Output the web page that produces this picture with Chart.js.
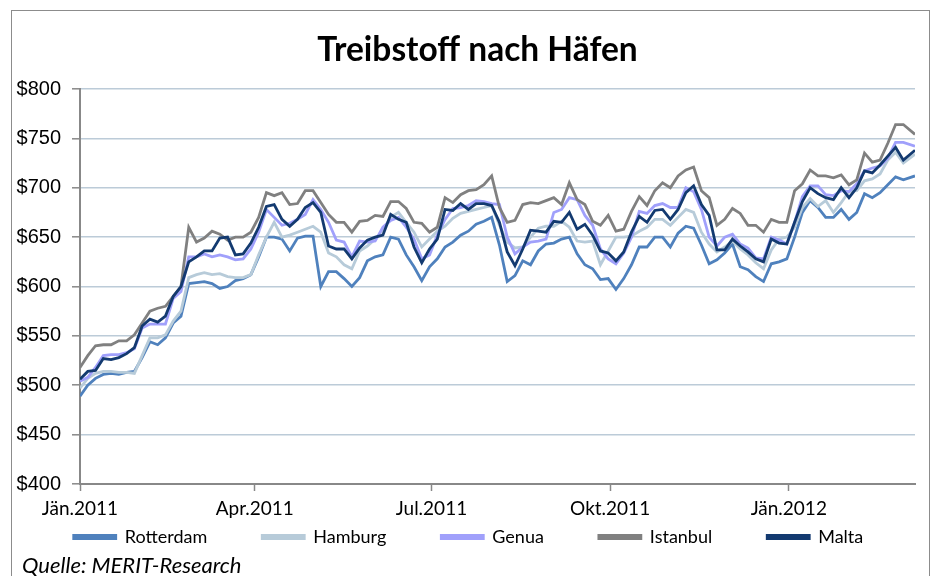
<!DOCTYPE html>
<html><head><meta charset="utf-8">
<script src="https://cdn.jsdelivr.net/npm/chart.js@4"></script>
<style>
html,body{margin:0;padding:0;background:#fff;}
#wrap{position:relative;width:937px;height:576px;overflow:hidden;background:#fff;}
#frame{position:absolute;left:11px;top:10px;width:919px;height:620px;border:1px solid #8c8c8c;box-sizing:border-box;}
canvas{position:absolute;left:0;top:0;}
#src{position:absolute;left:22px;top:551px;font:italic 22px Lato, "Open Sans", sans-serif;color:#000;white-space:nowrap;}
</style></head><body>
<div id="wrap"><div id="frame"></div><canvas id="c" width="937" height="576"></canvas><div id="src">Quelle: MERIT-Research</div></div>
<script>
// day offsets from 1 Jan 2011
const days = [0,4,8,12,16,20,24,28,32,36,40,44,48,52,56,60,64,68,72,76,
80,84,88,92,96,100,104,108,112,116,120,124,128,132,136,140,144,148,
152,156,160,164,168,172,176,180,184,188,192,196,200,204,208,212,216,220,
224,228,232,236,240,244,248,252,256,260,264,268,272,276,280,284,288,292,
296,300,304,308,312,316,320,324,328,332,336,340,344,348,352,356,360,364,
368,372,376,380,384,388,392,396,400,404,408,412,416,420,424,430];

const xTickDays = [0, 90, 181, 273, 365];
const xTickLabels = ['Jän.2011', 'Apr.2011', 'Jul.2011', 'Okt.2011', 'Jän.2012'];
const yTicks = [400, 450, 500, 550, 600, 650, 700, 750, 800];
const seriesNames = ['Rotterdam', 'Hamburg', 'Genua', 'Istanbul', 'Malta'];

const rotterdam = [489,500,507,511,512,511,513,514,528,544,541,548,563,570,603,604,605,603,598,600,
606,608,612,630,650,650,648,636,649,651,651,600,615,615,608,600,609,626,
630,632,650,648,632,620,606,620,628,640,645,652,656,663,666,670,642,605,
611,626,622,636,643,644,648,650,633,622,618,607,608,597,608,622,640,640,
650,650,640,654,661,659,642,623,627,634,643,620,617,610,605,623,625,628,
650,675,687,680,670,670,678,668,675,694,690,695,703,711,708,712];

const hamburg = [497,507,512,514,514,513,513,512,530,548,548,551,565,575,609,612,614,612,613,610,
609,609,612,632,650,665,650,652,655,658,661,655,634,630,622,618,636,641,
648,657,670,675,665,655,640,648,656,661,669,674,676,678,680,682,662,645,
639,640,650,659,661,661,666,660,646,645,646,622,636,650,650,651,656,660,
668,668,662,670,678,675,655,643,635,640,646,638,632,624,618,637,648,650,
660,680,689,681,687,675,685,696,697,707,709,714,728,736,725,734];

const genua = [504,508,518,530,531,531,533,537,558,562,562,562,588,595,630,630,633,630,632,630,
627,628,638,655,678,670,662,664,668,673,688,678,665,647,645,630,646,645,
646,660,667,670,660,648,628,632,652,668,679,680,682,687,686,684,683,650,
633,640,645,646,648,675,678,690,688,672,662,638,628,623,634,650,676,674,
682,684,680,680,700,696,678,650,641,650,653,643,639,629,628,650,647,643,
665,691,702,702,693,692,697,696,704,717,720,722,730,746,746,742];

const istanbul = [518,530,540,541,541,545,545,551,563,575,578,580,590,600,660,645,649,656,653,647,
650,650,655,670,695,692,695,683,684,697,697,685,673,665,665,655,666,667,
672,671,686,686,679,665,664,655,660,690,685,693,697,698,703,712,680,665,
667,683,685,684,687,690,683,705,688,683,666,662,672,656,658,676,691,682,
697,705,700,712,718,721,697,690,662,668,679,674,662,662,655,668,665,665,
697,704,718,712,712,710,713,703,708,735,726,728,745,764,764,754];

const malta = [506,514,515,527,526,528,532,538,560,567,564,570,590,600,625,630,636,636,649,650,
632,633,644,660,681,683,668,661,668,680,685,675,641,638,638,628,639,647,
650,652,673,668,665,640,624,638,648,678,677,684,678,684,684,682,665,635,
621,638,657,656,655,666,665,675,658,663,652,636,634,626,635,655,671,665,
677,678,668,678,695,702,683,672,637,637,648,641,635,628,625,648,644,643,
665,686,700,694,690,688,700,690,700,717,715,723,732,741,728,738];

const seriesValues = [rotterdam, hamburg, genua, istanbul, malta];
const seriesColors = ['#4f81bd', '#b7cbd9', '#a0a0fb', '#808080', '#133a70'];
const drawOrder = [5, 4, 3, 2, 1];

const txtFont = 'Lato, "Open Sans", sans-serif';

const datasets = seriesNames.map((name, i) => ({
  label: name,
  data: days.map((d, j) => ({ x: d, y: seriesValues[i][j] })),
  borderColor: seriesColors[i],
  backgroundColor: seriesColors[i],
  borderWidth: 2.8,
  pointRadius: 0,
  pointHoverRadius: 0,
  tension: 0,
  fill: false,
  order: drawOrder[i]
}));

// place the legend row and title like the original layout
const layoutTweak = {
  id: 'layoutTweak',
  beforeDraw(chart) {
    const lg = chart.legend;
    if (lg) {
      const pad = lg.options.labels.padding;
      const fs = lg.options.labels.font.size;
      lg.top = chart.chartArea.bottom + 53 - pad - fs / 2;
      lg.left = lg.left + 5;
      lg.right = lg.right + 5;
    }
    const t = chart.titleBlock;
    if (t) { t.left = t.left + 14; t.right = t.right + 14; }
  }
};

new Chart(document.getElementById('c'), {
  type: 'line',
  data: { datasets },
  plugins: [layoutTweak],
  options: {
    responsive: false,
    animation: false,
    events: [],
    layout: { padding: { left: 12, right: 22, top: 0, bottom: 22 } },
    plugins: {
      title: {
        display: true,
        text: 'Treibstoff nach Häfen',
        color: '#000',
        font: { family: txtFont, size: 33.5, weight: 'bold', lineHeight: 1.2 },
        padding: { top: 30, bottom: 18.8 }
      },
      legend: {
        display: true,
        position: 'bottom',
        maxHeight: 30,
        labels: {
          boxWidth: 42,
          boxHeight: 3,
          padding: 55,
          color: '#000',
          font: { family: txtFont, size: 18 },
          sort: (a, b) => a.datasetIndex - b.datasetIndex
        }
      },
      tooltip: { enabled: false }
    },
    scales: {
      x: {
        type: 'linear',
        min: 0,
        max: 430,
        afterBuildTicks: (scale) => { scale.ticks = xTickDays.map(v => ({ value: v })); },
        afterFit: (scale) => { scale.height = 40; },
        ticks: {
          autoSkip: false,
          maxRotation: 0,
          padding: 6,
          color: '#000',
          font: { family: txtFont, size: 19 },
          callback: (value, index) => xTickLabels[index]
        },
        grid: {
          drawOnChartArea: false,
          drawTicks: true,
          tickLength: 7,
          tickColor: '#888',
          tickWidth: 1.5
        },
        border: { display: true, color: '#888', width: 2 }
      },
      y: {
        min: 400,
        max: 800,
        afterBuildTicks: (scale) => { scale.ticks = yTicks.map(v => ({ value: v })); },
        afterFit: (scale) => { scale.width = 68; },
        ticks: {
          padding: 11,
          color: '#000',
          font: { family: '"Liberation Sans", Arial, sans-serif', size: 20 },
          callback: (value) => '$' + value
        },
        grid: {
          color: (ctx) => (ctx.tick && ctx.tick.value === 400) ? '#888' : '#bccbd8',
          lineWidth: 1.6,
          drawTicks: true,
          tickLength: 8,
          tickColor: '#888',
          tickWidth: 1.5
        },
        border: { display: true, color: '#888', width: 2 }
      }
    }
  }
});
</script>
</body></html>
